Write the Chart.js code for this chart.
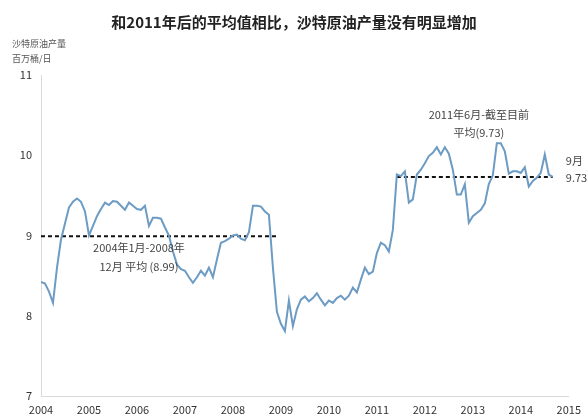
<!DOCTYPE html>
<html>
<head>
<meta charset="utf-8">
<script src="https://cdn.jsdelivr.net/npm/chart.js@4/dist/chart.umd.min.js"></script>
<style>
  html, body { margin: 0; padding: 0; background: #fff; }
  #wrap { width: 588px; height: 419px; position: relative; }
</style>
</head>
<body>
<div id="wrap"><canvas id="oilChart"></canvas></div>
<script>
const startYear = 2004;
const yearTicks = [2004, 2005, 2006, 2007, 2008, 2009, 2010, 2011, 2012, 2013, 2014, 2015];

// monthly output, Jan 2004 .. Sep 2014, million barrels per day
const production = [
  8.42, 8.40, 8.30, 8.16, 8.60, 8.95, 9.15, 9.35, 9.42, 9.46, 9.42, 9.30,
  9.00, 9.12, 9.24, 9.33, 9.41, 9.38, 9.43, 9.42, 9.37, 9.32, 9.41, 9.37,
  9.33, 9.32, 9.37, 9.12, 9.22, 9.22, 9.21, 9.10, 9.00, 8.80, 8.64, 8.58,
  8.56, 8.48, 8.41, 8.48, 8.56, 8.50, 8.60, 8.48, 8.70, 8.91, 8.93, 8.96,
  9.00, 9.01, 8.96, 8.94, 9.04, 9.37, 9.37, 9.36, 9.30, 9.26, 8.60, 8.05,
  7.90, 7.81, 8.19, 7.87, 8.08, 8.20, 8.24, 8.18, 8.22, 8.28, 8.20, 8.13,
  8.19, 8.16, 8.22, 8.25, 8.20, 8.25, 8.35, 8.29, 8.45, 8.60, 8.52, 8.55,
  8.78, 8.91, 8.88, 8.80, 9.07, 9.76, 9.74, 9.80, 9.41, 9.45, 9.76, 9.82,
  9.90, 9.99, 10.03, 10.10, 10.01, 10.10, 10.02, 9.82, 9.51, 9.51, 9.64, 9.16,
  9.24, 9.28, 9.32, 9.40, 9.64, 9.75, 10.15, 10.15, 10.05, 9.77, 9.80, 9.80,
  9.78, 9.85, 9.61, 9.68, 9.72, 9.78, 10.01, 9.76, 9.73
];

// averages: [first month index, last month index]
const firstAvgMonths = [0, 59];
const firstAvgValue = 8.99;
const secondAvgMonths = [89, 128];
const secondAvgValue = 9.73;

const titleText = '和2011年后的平均值相比，沙特原油产量没有明显增加';
const unitLines = ['沙特原油产量', '百万桶/日'];
const firstAvgLabel = ['2004年1月-2008年', '12月 平均 (8.99)'];
const secondAvgLabel = ['2011年6月-截至目前', '平均(9.73)'];
const lastPointLabel = ['9月', '9.73'];

const monthToX = i => startYear + i / 12;
const avgLine = (range, value) => range.map(i => ({ x: monthToX(i), y: value }));

const FONT = '"Noto Sans CJK SC", "Open Sans", sans-serif';
Chart.defaults.font.family = FONT;

const textPlugin = {
  id: 'chartTexts',
  afterDraw(chart) {
    const ctx = chart.ctx;
    const xs = chart.scales.x;
    const ys = chart.scales.y;
    ctx.save();
    ctx.textBaseline = 'middle';

    ctx.fillStyle = '#222';
    ctx.font = `bold 15px ${FONT}`;
    ctx.textAlign = 'center';
    ctx.fillText(titleText, chart.width / 2, 22);

    ctx.fillStyle = '#555';
    ctx.font = `9px ${FONT}`;
    ctx.textAlign = 'left';
    unitLines.forEach((t, k) => ctx.fillText(t, 12, 44 + k * 15));

    ctx.fillStyle = '#444';
    ctx.font = `11px ${FONT}`;
    ctx.textAlign = 'center';
    const ax = xs.getPixelForValue(monthToX(25));
    const ay = ys.getPixelForValue(firstAvgValue);
    firstAvgLabel.forEach((t, k) => ctx.fillText(t, ax - 2, ay + 12 + k * 19));

    const bx = xs.getPixelForValue(monthToX(109));
    const by = ys.getPixelForValue(secondAvgValue);
    secondAvgLabel.forEach((t, k) => ctx.fillText(t, bx + 2, by - 62 + k * 18));

    const last = production.length - 1;
    const cx = xs.getPixelForValue(monthToX(last));
    const cy = ys.getPixelForValue(production[last]);
    ctx.textAlign = 'left';
    lastPointLabel.forEach((t, k) => ctx.fillText(t, cx + 13, cy - 16 + k * 17));
    ctx.restore();
  }
};

new Chart(document.getElementById('oilChart'), {
  type: 'line',
  data: {
    datasets: [
      {
        label: '沙特原油产量',
        data: production.map((v, i) => ({ x: monthToX(i), y: v })),
        borderColor: '#6c9bc4',
        borderWidth: 2,
        pointRadius: 0,
        tension: 0
      },
      {
        label: '2004-2008 平均',
        data: avgLine(firstAvgMonths, firstAvgValue),
        borderColor: '#111',
        borderWidth: 2,
        borderDash: [4, 3],
        pointRadius: 0
      },
      {
        label: '2011-2014 平均',
        data: avgLine(secondAvgMonths, secondAvgValue),
        borderColor: '#111',
        borderWidth: 2,
        borderDash: [4, 3],
        pointRadius: 0
      }
    ]
  },
  plugins: [textPlugin],
  options: {
    responsive: true,
    maintainAspectRatio: false,
    animation: false,
    parsing: false,
    layout: { padding: { top: 75, right: 14, left: 0, bottom: 0 } },
    plugins: {
      legend: { display: false },
      tooltip: { enabled: false }
    },
    scales: {
      x: {
        type: 'linear',
        min: yearTicks[0],
        max: yearTicks[yearTicks.length - 1],
        afterBuildTicks(scale) { scale.ticks = yearTicks.map(v => ({ value: v })); },
        afterFit(scale) { scale.height = 23; },
        ticks: {
          autoSkip: false,
          maxRotation: 0,
          padding: 7,
          color: '#333',
          font: { size: 11 },
          callback: v => String(v)
        },
        grid: { drawOnChartArea: false, drawTicks: false },
        border: { color: '#dadada', width: 1 }
      },
      y: {
        min: 7,
        max: 11,
        afterFit(scale) { scale.width = 41; },
        ticks: {
          stepSize: 1,
          padding: 9,
          color: '#333',
          font: { size: 11 }
        },
        grid: { drawOnChartArea: false, drawTicks: false },
        border: { color: '#dadada', width: 1 }
      }
    }
  }
});
</script>
</body>
</html>
